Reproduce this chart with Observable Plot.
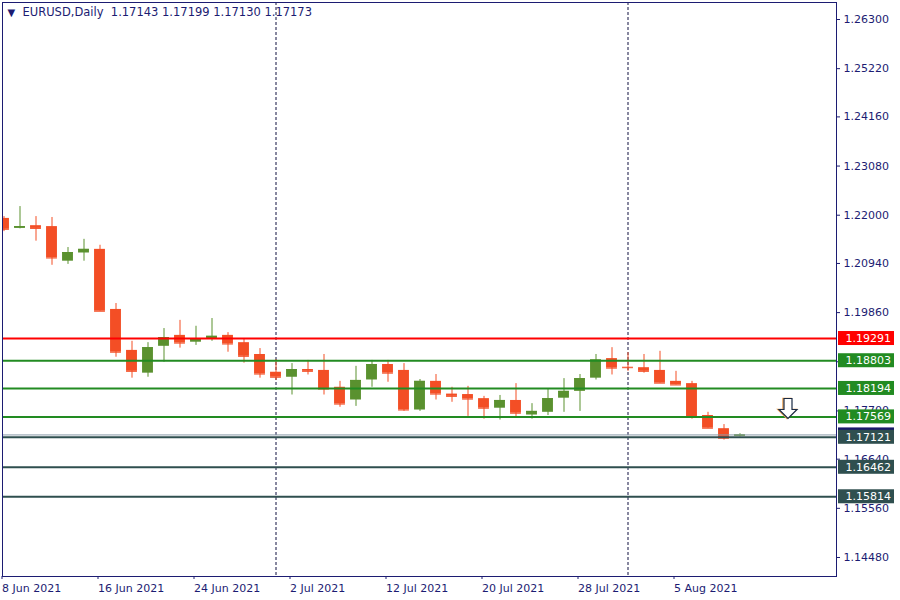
<!DOCTYPE html>
<html>
<head>
<meta charset="utf-8">
<script src="https://cdn.jsdelivr.net/npm/d3@7"></script>
<script src="https://cdn.jsdelivr.net/npm/@observablehq/plot@0.6"></script>
<style>
  html, body { margin: 0; padding: 0; background: #ffffff; }
  #chart svg { display: block; font-family: "DejaVu Sans", sans-serif; }
</style>
</head>
<body>
<div id="chart"></div>
<script>
// ---- data ----
const symbolTitle = "EURUSD,Daily";
const lastQuote = ["1.17143", "1.17199", "1.17130", "1.17173"];

const dates = [
  "2021-06-08","2021-06-09","2021-06-10","2021-06-11","2021-06-14","2021-06-15","2021-06-16",
  "2021-06-17","2021-06-18","2021-06-21","2021-06-22","2021-06-23","2021-06-24","2021-06-25",
  "2021-06-28","2021-06-29","2021-06-30","2021-07-01","2021-07-02","2021-07-05","2021-07-06",
  "2021-07-07","2021-07-08","2021-07-09","2021-07-12","2021-07-13","2021-07-14","2021-07-15",
  "2021-07-16","2021-07-19","2021-07-20","2021-07-21","2021-07-22","2021-07-23","2021-07-26",
  "2021-07-27","2021-07-28","2021-07-29","2021-07-30","2021-08-02","2021-08-03","2021-08-04",
  "2021-08-05","2021-08-06","2021-08-09","2021-08-10","2021-08-11"
];
const open = [
  1.2193,1.2171,1.2177,1.2175,1.2099,1.2117,1.2125,
  1.1993,1.1903,1.1853,1.1912,1.1936,1.1921,1.1928,
  1.1936,1.1920,1.1894,1.1855,1.1844,1.1861,1.1859,
  1.1822,1.1794,1.1838,1.1872,1.1859,1.1772,1.1835,
  1.1807,1.1806,1.1797,1.1776,1.1793,1.1761,1.1767,
  1.1798,1.1813,1.1842,1.1885,1.1866,1.1865,1.1859,
  1.1835,1.1830,1.1760,1.1731,1.17143
];
const high = [
  1.2197,1.2219,1.2197,1.2195,1.2129,1.2147,1.2134,
  1.2006,1.1923,1.1920,1.1951,1.1969,1.1956,1.1973,
  1.1942,1.1929,1.1907,1.1883,1.1874,1.1881,1.1894,
  1.1835,1.1868,1.1881,1.1881,1.1874,1.1839,1.1850,
  1.1822,1.1824,1.1802,1.1804,1.1830,1.1786,1.1817,
  1.1841,1.1850,1.1894,1.1909,1.1898,1.1894,1.1901,
  1.1857,1.1835,1.1767,1.1740,1.17199
];
const low = [
  1.2164,1.2170,1.2143,1.2090,1.2092,1.2099,1.1989,
  1.1888,1.1842,1.1844,1.1877,1.1908,1.1914,1.1923,
  1.1899,1.1875,1.1842,1.1837,1.1805,1.1849,1.1805,
  1.1778,1.1780,1.1822,1.1833,1.1769,1.1769,1.1794,
  1.1789,1.1758,1.1752,1.1750,1.1754,1.1752,1.1760,
  1.1767,1.1769,1.1838,1.1849,1.1857,1.1853,1.1831,
  1.1827,1.1752,1.1732,1.1706,1.17130
];
const close = [
  1.2169,1.2175,1.2171,1.2106,1.2118,1.2125,1.1989,
  1.1899,1.1857,1.1909,1.1931,1.1919,1.1927,1.1934,
  1.1917,1.1890,1.1851,1.1844,1.1861,1.1857,1.1818,
  1.1785,1.1837,1.1872,1.1853,1.1772,1.1835,1.1807,
  1.1802,1.1796,1.1776,1.1793,1.1765,1.1769,1.1797,
  1.1813,1.1841,1.1882,1.1864,1.1865,1.1857,1.1831,
  1.1827,1.1756,1.1732,1.1710,1.17173
];

// horizontal levels drawn on the chart
const levelValues = [1.19291, 1.18803, 1.18194, 1.17569, 1.17121, 1.16462, 1.15814];
const levelColors = ["#ff0000", "#228b22", "#228b22", "#228b22", "#2f4f4f", "#2f4f4f", "#2f4f4f"];
const bidPrice = 1.17173;

// price axis tick labels
const priceTicks = [1.26300, 1.25220, 1.24160, 1.23080, 1.22000, 1.20940, 1.19860, 1.18780, 1.17700, 1.16640, 1.15560, 1.14480];

// time axis labels
const dateTickDates = ["2021-06-08","2021-06-16","2021-06-24","2021-07-02","2021-07-12","2021-07-20","2021-07-28","2021-08-05"];
const dateTickLabels = ["8 Jun 2021","16 Jun 2021","24 Jun 2021","2 Jul 2021","12 Jul 2021","20 Jul 2021","28 Jul 2021","5 Aug 2021"];

// monthly period separators
const separatorDates = ["2021-07-01", "2021-08-02"];

// arrow object (bar slot after last candle, price)
const arrowBar = 49;
const arrowPrice = 1.17754;

// ---- build ----
const bars = dates.map((d, i) => ({
  i, date: d, open: open[i], high: high[i], low: low[i], close: close[i],
  up: close[i] >= open[i]
}));
const idx = d => dates.indexOf(d);
const dateTicks = dateTickDates.map(idx);
const tickLabel = new Map(dateTicks.map((t, k) => [t, dateTickLabels[k]]));
const levels = levelValues.map((v, k) => ({v, color: levelColors[k]}));

const NAVY = "#1c1c72";
const UP = "#5a912f";
const DOWN = "#f34e25";
const BODY = 0.34;

// down-arrow glyph used as a dot symbol
const arrowSymbol = {
  draw(ctx) {
    ctx.moveTo(-4, -10);
    ctx.lineTo(4, -10);
    ctx.lineTo(4, 1);
    ctx.lineTo(9, 1);
    ctx.lineTo(0, 10);
    ctx.lineTo(-9, 1);
    ctx.lineTo(-4, 1);
    ctx.closePath();
  }
};

const chart = Plot.plot({
  width: 900,
  height: 600,
  marginLeft: 2,
  marginRight: 64,
  marginTop: 2,
  marginBottom: 24,
  style: {background: "#ffffff", fontFamily: "DejaVu Sans, sans-serif", fontSize: "11px", overflow: "visible"},
  x: {type: "linear", domain: [-0.09375, 52.03125]},
  y: {type: "linear", domain: [1.140625, 1.266735]},
  marks: [
    // separators
    Plot.ruleX(separatorDates.map(idx), {stroke: "#101040", strokeWidth: 1, strokeDasharray: "3,2"}),
    // wicks
    Plot.ruleX(bars, {x: "i", y1: "low", y2: "high", stroke: d => d.up ? UP : DOWN, strokeWidth: 1, clip: true}),
    // bodies
    Plot.rect(bars, {
      x1: d => d.i - BODY, x2: d => d.i + BODY,
      y1: "open", y2: "close",
      fill: d => d.up ? UP : DOWN, clip: true
    }),
    Plot.ruleY(bars, {x1: d => d.i - BODY, x2: d => d.i + BODY, y: "close", stroke: d => d.up ? UP : DOWN, strokeWidth: 1, clip: true}),
    // levels
    Plot.ruleY(levels, {y: "v", stroke: "color", strokeWidth: 2}),
    Plot.ruleY([bidPrice], {stroke: "#8a9aa8", strokeWidth: 1}),
    // arrow
    Plot.dot([{i: arrowBar, p: arrowPrice}], {x: "i", y: "p", symbol: arrowSymbol, r: 10, fill: "#ffffff", stroke: "#e8a050", strokeWidth: 1.5, dx: -1}),
    Plot.dot([{i: arrowBar, p: arrowPrice}], {x: "i", y: "p", symbol: arrowSymbol, r: 10, fill: "#ffffff", stroke: "#1a2a44", strokeWidth: 1.2}),
    // frame
    Plot.frame({stroke: NAVY, strokeWidth: 1}),
    // axes
    Plot.axisY({
      anchor: "right", ticks: priceTicks, tickSize: 3, tickPadding: 4,
      tickFormat: d3.format(".5f"), color: NAVY, fontSize: 11, label: null
    }),
    Plot.axisX({
      anchor: "bottom", ticks: dateTicks, tickSize: 3, tickPadding: 5,
      tickFormat: t => tickLabel.get(t), textAnchor: "start", dx: -2, color: NAVY, fontSize: 11, label: null
    }),
    // bid label (under)
    Plot.rect([bidPrice], {y1: d => d, y2: d => d, insetTop: -7, insetBottom: -7, insetLeft: 836, insetRight: -58, fill: "#18186a", clip: false}),
    Plot.text([bidPrice], {y: d => d, text: d => d.toFixed(5), frameAnchor: "right", dx: 9, textAnchor: "start", fill: "#ffffff", fontSize: 11}),
    // level labels
    Plot.rect(levels, {y1: "v", y2: "v", insetTop: -7, insetBottom: -7, insetLeft: 836, insetRight: -58, fill: "color", clip: false}),
    Plot.text(levels, {y: "v", text: d => d.v.toFixed(5), frameAnchor: "right", dx: 9, textAnchor: "start", fill: "#ffffff", fontSize: 11}),
    // title
    Plot.text(["▼"], {frameAnchor: "top-left", dx: 5, dy: 6, text: d => d, fontSize: 10, fill: NAVY, textAnchor: "start"}),
    Plot.text([symbolTitle + "  " + lastQuote.join(" ")], {frameAnchor: "top-left", dx: 20, dy: 5, text: d => d, fontSize: 11.5, fill: NAVY, textAnchor: "start"})
  ]
});
document.getElementById("chart").appendChild(chart);
</script>
</body>
</html>
